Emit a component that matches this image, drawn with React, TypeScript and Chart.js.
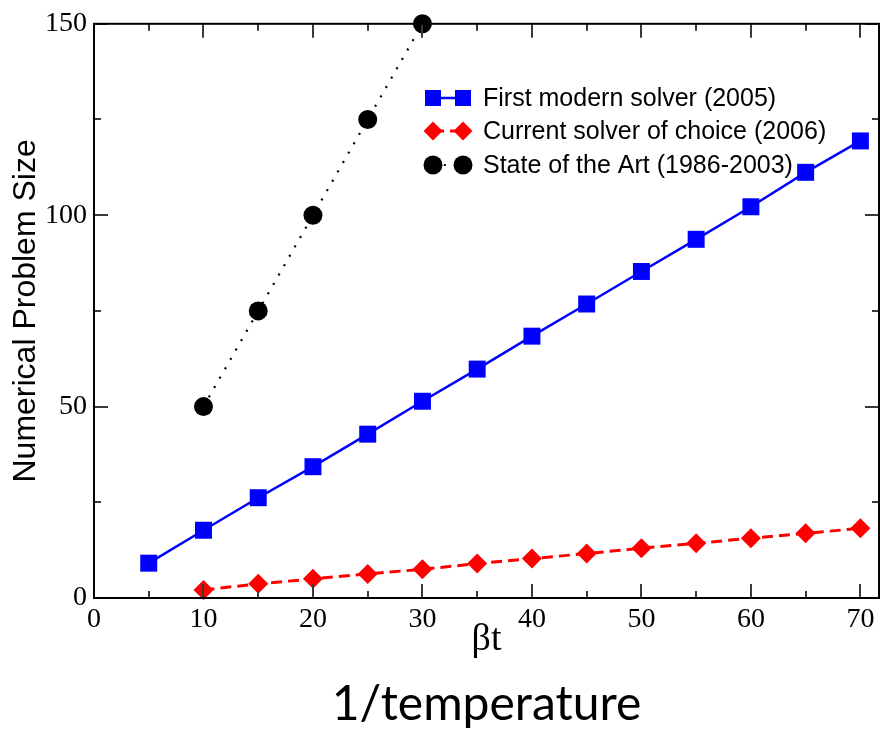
import React, { useEffect, useRef } from 'react';
import { Chart, registerables } from 'chart.js';

Chart.register(...registerables);

// ---- data ----
const seriesNames = [
  'First modern solver (2005)',
  'Current solver of choice (2006)',
  'State of the Art (1986-2003)',
];
const firstX = [5, 10, 15, 20, 25, 30, 35, 40, 45, 50, 55, 60, 65, 70];
const firstY = [9.1, 17.7, 26.2, 34.3, 42.8, 51.4, 59.8, 68.4, 76.8, 85.3, 93.7, 102.2, 111.2, 119.4];
const currentX = [10, 15, 20, 25, 30, 35, 40, 45, 50, 55, 60, 65, 70];
const currentY = [2.1, 3.7, 5.0, 6.3, 7.5, 9.0, 10.3, 11.6, 13.0, 14.3, 15.6, 16.9, 18.2];
const artX = [10, 15, 20, 25, 30];
const artY = [50, 75, 100, 125, 150];
const xTitle = 'βt';
const yTitle = 'Numerical Problem Size';
const bottomTitle = '1/temperature';

const X_MIN = 0;
const X_MAX = 71.7;
const Y_MIN = 0;
const Y_MAX = 150;

const toPoints = (xs: number[], ys: number[]) => xs.map((x, i) => ({ x, y: ys[i] }));

const frameAndLegend = {
  id: 'frameAndLegend',
  afterDatasetsDraw(chart: any) {
    const { ctx, chartArea: a, scales } = chart;
    const xs = scales.x;
    const ys = scales.y;
    ctx.save();
    // inward ticks
    ctx.strokeStyle = '#3a3a3a';
    ctx.lineWidth = 2;
    xs.ticks.forEach((t: any) => {
      const px = Math.round(xs.getPixelForValue(t.value));
      const len = t.value % 10 === 0 ? 14 : 7;
      ctx.beginPath();
      ctx.moveTo(px, a.bottom);
      ctx.lineTo(px, a.bottom - len);
      ctx.moveTo(px, a.top);
      ctx.lineTo(px, a.top + len);
      ctx.stroke();
    });
    ys.ticks.forEach((t: any) => {
      const py = Math.round(ys.getPixelForValue(t.value));
      const len = t.value % 50 === 0 ? 14 : 7;
      ctx.beginPath();
      ctx.moveTo(a.left, py);
      ctx.lineTo(a.left + len, py);
      ctx.moveTo(a.right, py);
      ctx.lineTo(a.right - len, py);
      ctx.stroke();
    });
    // frame
    ctx.strokeStyle = '#000';
    ctx.lineWidth = 2;
    ctx.strokeRect(a.left, a.top, a.right - a.left, a.bottom - a.top);

    // legend
    const rowsY = [98, 131, 165];
    const x1 = 433;
    const x2 = 463;
    const textX = 483;
    chart.data.datasets.forEach((ds: any, i: number) => {
      const y = rowsY[i];
      ctx.save();
      ctx.strokeStyle = ds.borderColor;
      ctx.lineWidth = ds.borderWidth;
      ctx.setLineDash(ds.borderDash || []);
      ctx.beginPath();
      ctx.moveTo(x1, y);
      ctx.lineTo(x2, y);
      ctx.stroke();
      ctx.setLineDash([]);
      ctx.fillStyle = ds.pointBackgroundColor;
      [x1, x2].forEach((cx) => {
        ctx.beginPath();
        if (ds.pointStyle === 'rect') {
          ctx.rect(cx - 8, y - 8, 16, 16);
        } else if (ds.pointStyle === 'rectRot') {
          ctx.moveTo(cx - 9.5, y);
          ctx.lineTo(cx, y - 9.5);
          ctx.lineTo(cx + 9.5, y);
          ctx.lineTo(cx, y + 9.5);
          ctx.closePath();
        } else {
          ctx.arc(cx, y, 9.5, 0, Math.PI * 2);
        }
        ctx.fill();
      });
      ctx.restore();
      ctx.fillStyle = '#000';
      ctx.font = '25px "Liberation Sans", Arial, sans-serif';
      ctx.textBaseline = 'middle';
      ctx.textAlign = 'left';
      ctx.fillText(ds.label, textX, y + 1);
    });
    ctx.restore();
  },
};

export default function App() {
  const ref = useRef<HTMLCanvasElement | null>(null);

  useEffect(() => {
    if (!ref.current) return;
    const chart = new Chart(ref.current, {
      type: 'line',
      data: {
        datasets: [
          {
            label: seriesNames[0],
            data: toPoints(firstX, firstY),
            borderColor: '#0000ff',
            backgroundColor: '#0000ff',
            pointBackgroundColor: '#0000ff',
            pointBorderColor: '#0000ff',
            borderWidth: 2.5,
            pointStyle: 'rect',
            pointRadius: 12,
            pointBorderWidth: 0,
            clip: false as any,
          },
          {
            label: seriesNames[1],
            data: toPoints(currentX, currentY),
            borderColor: '#ff0000',
            backgroundColor: '#ff0000',
            pointBackgroundColor: '#ff0000',
            pointBorderColor: '#ff0000',
            borderWidth: 3,
            borderDash: [11, 6],
            pointStyle: 'rectRot',
            pointRadius: 10,
            pointBorderWidth: 0,
            clip: false as any,
          },
          {
            label: seriesNames[2],
            data: toPoints(artX, artY),
            borderColor: '#000000',
            backgroundColor: '#000000',
            pointBackgroundColor: '#000000',
            pointBorderColor: '#000000',
            borderWidth: 2.2,
            borderDash: [2, 8.8],
            pointStyle: 'circle',
            pointRadius: 9.5,
            pointBorderWidth: 0,
            clip: false as any,
          },
        ],
      },
      options: {
        animation: false,
        responsive: true,
        maintainAspectRatio: false,
        layout: { autoPadding: false, padding: { top: 21, right: 1, left: 0, bottom: 0 } },
        plugins: {
          legend: { display: false },
          tooltip: { enabled: false },
          title: {
            display: true,
            position: 'bottom',
            fullSize: false,
            text: bottomTitle,
            color: '#000',
            font: { family: 'Lato, "Open Sans", sans-serif', size: 48, weight: 'normal', lineHeight: 1 },
            padding: { top: 0, bottom: 12 },
          },
        },
        scales: {
          x: {
            type: 'linear',
            min: X_MIN,
            max: X_MAX,
            grid: { display: false, drawTicks: false },
            border: { display: false },
            ticks: {
              stepSize: 5,
              includeBounds: false,
              autoSkip: false,
              maxRotation: 0,
              padding: 5,
              color: '#000',
              font: { family: '"Liberation Serif", "Times New Roman", serif', size: 28 },
              callback: (v: any) => (Number(v) % 10 === 0 ? String(v) : ''),
            },
            title: {
              display: true,
              text: xTitle,
              color: '#000',
              font: { family: '"Liberation Serif", "Times New Roman", serif', size: 38, lineHeight: 1 },
              padding: { top: 0, bottom: 22 },
            },
            afterFit: (s: any) => {
              s.height = 83;
            },
          },
          y: {
            type: 'linear',
            min: Y_MIN,
            max: Y_MAX,
            grid: { display: false, drawTicks: false },
            border: { display: false },
            ticks: {
              stepSize: 25,
              includeBounds: false,
              autoSkip: false,
              padding: 7,
              color: '#000',
              font: { family: '"Liberation Serif", "Times New Roman", serif', size: 28 },
              callback: (v: any) => (Number(v) % 50 === 0 ? String(v) : ''),
            },
            title: {
              display: true,
              text: yTitle,
              color: '#000',
              font: { family: '"Liberation Sans", Arial, sans-serif', size: 32, lineHeight: 1 },
              padding: { top: 10, bottom: 0 },
            },
            afterFit: (s: any) => {
              s.width = 94;
            },
          },
        },
      },
      plugins: [frameAndLegend],
    });
    return () => chart.destroy();
  }, []);

  return (
    <div style={{ position: 'fixed', left: 0, top: 0, width: 880, height: 741, background: '#fff' }}>
      <canvas ref={ref} />
    </div>
  );
}
